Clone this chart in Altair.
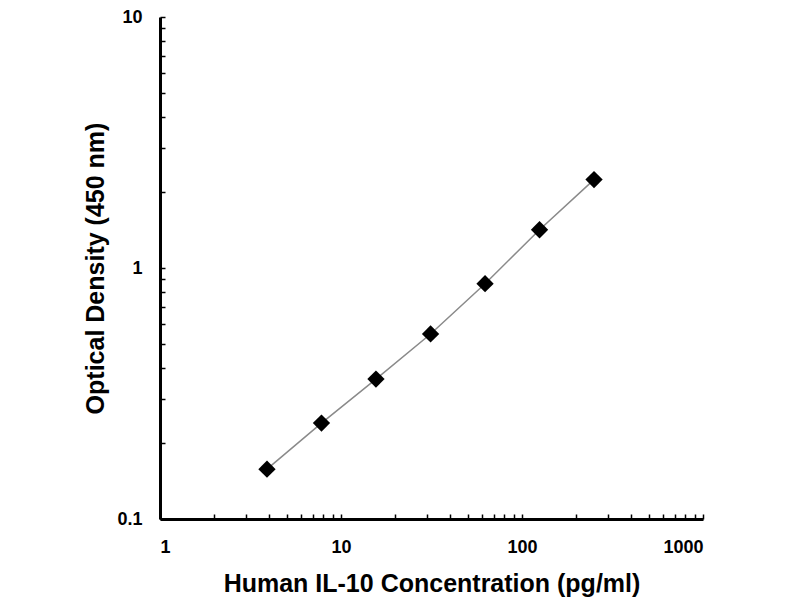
import altair as alt
import pandas as pd

# standard curve
conc = [3.9, 7.8, 15.6, 31.25, 62.5, 125, 250]
od = [0.158, 0.241, 0.361, 0.546, 0.866, 1.42, 2.25]

x_labels = [1, 10, 100, 1000]
y_labels = [0.1, 1, 10]
x_ticks = [1, 2, 3, 4, 5, 6, 7, 8, 9,
           10, 20, 30, 40, 50, 60, 70, 80, 90,
           100, 200, 300, 400, 500, 600, 700, 800, 900, 1000]
y_ticks = [0.1, 0.2, 0.3, 0.4, 0.5, 0.6, 0.7, 0.8, 0.9,
           1, 2, 3, 4, 5, 6, 7, 8, 9, 10]

df = pd.DataFrame({"conc": conc, "od": od})

W, H = 543, 502
FONT = "Liberation Sans"

x_scale = alt.Scale(type="log", domain=[1, 1000], nice=False)
y_scale = alt.Scale(type="log", domain=[0.1, 10], nice=False)

label_style = dict(labelFont=FONT, labelFontSize=18, labelFontWeight="bold", labelColor="black")
title_style = dict(titleFont=FONT, titleFontSize=25, titleFontWeight="bold", titleColor="black")

x_main = alt.Axis(
    values=x_labels, format="~g", ticks=False, tickSize=0, grid=False,
    domainColor="black", domainWidth=3, labelPadding=19,
    title="Human IL-10 Concentration (pg/ml)", titlePadding=15,
    **label_style, **title_style,
)
y_main = alt.Axis(
    values=y_labels, format="~g", ticks=False, tickSize=0, grid=False,
    domainColor="black", domainWidth=3, labelPadding=18,
    title="Optical Density (450 nm)", titlePadding=8,
    **label_style, **title_style,
)
# inward ticks: axes on the opposite side, pulled back onto the plot edge
x_minor = alt.Axis(
    orient="top", offset=-H, values=x_ticks, labels=False, domain=False,
    grid=False, tickSize=5, tickColor="black", tickWidth=1.5, title=None,
)
y_minor = alt.Axis(
    orient="right", offset=-W, values=y_ticks, labels=False, domain=False,
    grid=False, tickSize=5, tickColor="black", tickWidth=1.5, title=None,
)

base = alt.Chart(df)

line = base.mark_line(color="#8a8a8a", strokeWidth=1.5).encode(
    x=alt.X("conc:Q", scale=x_scale, axis=x_main),
    y=alt.Y("od:Q", scale=y_scale, axis=y_main),
)
points = base.mark_point(shape="diamond", filled=True, size=300, color="black", opacity=1).encode(
    x=alt.X("conc:Q", scale=x_scale, axis=None),
    y=alt.Y("od:Q", scale=y_scale, axis=None),
    tooltip=["conc:Q", "od:Q"],
)
ticks = base.mark_point(opacity=0).encode(
    x=alt.X("conc:Q", scale=x_scale, axis=x_minor),
    y=alt.Y("od:Q", scale=y_scale, axis=y_minor),
)

chart = (
    alt.layer(line, points, ticks)
    .resolve_axis(x="independent", y="independent")
    .properties(
        width=W,
        height=H,
        autosize=alt.AutoSizeParams(type="none"),
        padding={"left": 152, "top": 9, "right": 80, "bottom": 81},
        background="white",
    )
    .configure_view(stroke=None)
)

chart.save("out.html", embed_options={"renderer": "svg", "actions": False})
